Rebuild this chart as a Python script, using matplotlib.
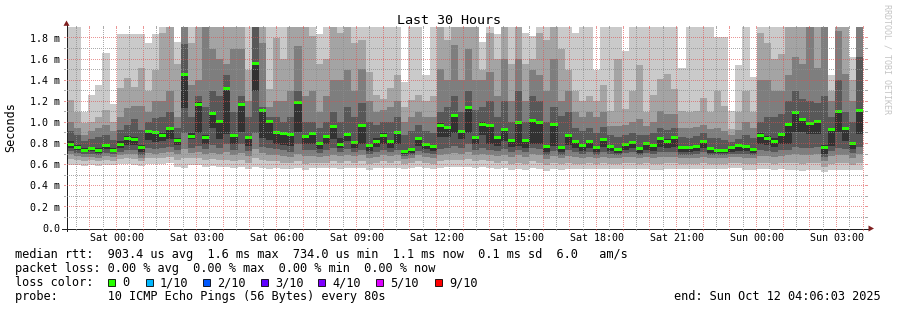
import numpy as np
import matplotlib
matplotlib.use("Agg")
import matplotlib.pyplot as plt
from matplotlib.lines import Line2D
from matplotlib.patches import Polygon, Rectangle

# ---------------- data (milliseconds) ----------------
median_rtt = [
    0.792, 0.764, 0.735, 0.754, 0.735, 0.780, 0.735, 0.795, 0.849, 0.840,
    0.761, 0.912, 0.906, 0.878, 0.941, 0.833, 1.455, 0.865, 1.171, 0.855,
    1.086, 1.010, 1.323, 0.874, 1.171, 0.855, 1.559, 1.114, 1.004, 0.909,
    0.893, 0.890, 1.190, 0.871, 0.896, 0.799, 0.871, 0.960, 0.789, 0.890,
    0.814, 0.975, 0.780, 0.821, 0.874, 0.818, 0.909, 0.723, 0.745, 0.846,
    0.795, 0.770, 0.969, 0.950, 1.064, 0.915, 1.140, 0.859, 0.985, 0.975,
    0.855, 0.931, 0.830, 0.997, 0.827, 1.016, 1.001, 0.773, 0.982, 0.764,
    0.874, 0.821, 0.780, 0.821, 0.764, 0.840, 0.770, 0.745, 0.792, 0.808,
    0.754, 0.802, 0.780, 0.852, 0.824, 0.855, 0.758, 0.764, 0.773, 0.824,
    0.751, 0.735, 0.735, 0.761, 0.777, 0.770, 0.742, 0.878, 0.852, 0.821,
    0.881, 0.985, 1.098, 1.029, 0.994, 1.007, 0.761, 0.931, 1.102, 0.941,
    0.805, 1.114]

rtt_p10 = [
    2.0, 2.0, 1.10, 1.26, 1.35, 1.66, 1.17, 1.84, 1.84, 1.84,
    1.84, 1.75, 1.84, 2.0, 2.0, 1.76, 2.0, 2.0, 2.0, 2.0,
    2.0, 2.0, 2.0, 2.0, 2.0, 2.0, 2.0, 2.0, 2.0, 2.0,
    2.0, 2.0, 2.0, 2.0, 2.0, 1.84, 2.0, 2.0, 2.0, 2.0,
    2.0, 2.0, 2.0, 2.0, 2.0, 2.0, 2.0, 1.38, 2.0, 2.0,
    1.45, 2.0, 2.0, 2.0, 2.0, 2.0, 2.0, 2.0, 1.76, 2.0,
    1.84, 2.0, 2.0, 2.0, 1.85, 1.82, 2.0, 1.90, 2.0, 2.0,
    2.0, 1.85, 2.0, 1.90, 1.50, 2.0, 2.0, 2.0, 1.68, 2.0,
    2.0, 2.0, 2.0, 2.0, 2.0, 2.0, 1.52, 2.0, 2.0, 2.0,
    2.0, 1.81, 1.81, 1.11, 1.54, 2.0, 1.43, 2.0, 2.0, 2.0,
    2.0, 2.0, 2.0, 2.0, 2.0, 2.0, 2.0, 1.45, 2.0, 2.0,
    1.62, 2.0]

rtt_p9 = [
    1.21, 1.10, 0.99, 1.00, 1.05, 1.12, 1.00, 1.33, 1.42, 1.34,
    1.52, 1.30, 1.50, 1.85, 1.95, 1.55, 2.0, 1.75, 2.0, 2.0,
    2.0, 2.0, 2.0, 1.90, 2.0, 1.50, 2.0, 2.0, 1.32, 1.80,
    1.60, 1.90, 2.0, 1.95, 1.82, 1.55, 1.60, 1.90, 1.85, 1.90,
    1.75, 1.78, 1.48, 1.26, 1.22, 1.33, 1.45, 1.15, 1.21, 1.26,
    1.20, 1.25, 2.0, 1.78, 1.95, 2.0, 2.0, 2.0, 1.50, 1.85,
    1.60, 2.0, 1.55, 2.0, 1.55, 1.60, 1.85, 1.78, 1.95, 1.70,
    1.50, 1.30, 1.20, 1.25, 1.20, 1.35, 1.11, 1.60, 1.13, 1.30,
    1.54, 1.10, 1.26, 1.41, 1.46, 1.32, 1.11, 1.10, 1.11, 1.23,
    1.10, 1.30, 1.16, 0.94, 1.10, 1.30, 1.10, 1.85, 1.75, 1.60,
    1.65, 1.95, 2.0, 1.90, 2.0, 2.0, 2.0, 1.30, 2.0, 2.0,
    1.40, 2.0]

rtt_p8 = [
    1.00, 0.95, 0.88, 0.92, 0.95, 0.98, 0.92, 1.05, 1.14, 1.16,
    1.16, 1.10, 1.20, 1.20, 1.30, 1.05, 2.0, 1.35, 1.40, 1.90,
    1.70, 1.60, 1.55, 1.70, 1.70, 1.20, 2.0, 1.75, 1.15, 1.20,
    1.20, 1.30, 1.72, 1.25, 1.30, 1.10, 1.25, 1.40, 1.40, 1.50,
    1.30, 1.51, 1.20, 1.10, 1.12, 1.15, 1.20, 1.00, 1.05, 1.10,
    1.05, 1.05, 1.51, 1.40, 1.73, 1.40, 1.70, 1.40, 1.40, 1.48,
    1.25, 1.60, 1.20, 1.60, 1.20, 1.50, 1.45, 1.30, 1.60, 1.20,
    1.30, 1.10, 1.05, 1.10, 1.05, 1.10, 0.97, 0.97, 0.98, 1.00,
    1.03, 0.97, 1.00, 1.11, 1.08, 1.08, 0.95, 0.95, 0.96, 0.98,
    0.94, 0.95, 0.92, 0.88, 0.93, 1.00, 0.95, 1.40, 1.40, 1.30,
    1.30, 1.45, 1.62, 1.55, 2.0, 1.52, 2.0, 1.20, 1.87, 1.46,
    1.20, 2.0]

rtt_p7 = [
    0.92, 0.88, 0.82, 0.84, 0.86, 0.88, 0.83, 0.93, 0.98, 1.03,
    0.93, 1.00, 1.04, 1.05, 1.10, 0.95, 1.74, 1.05, 1.25, 1.15,
    1.30, 1.25, 1.45, 1.10, 1.25, 1.05, 1.90, 1.15, 1.05, 1.05,
    1.00, 1.05, 1.30, 1.00, 1.00, 0.95, 1.00, 1.10, 1.00, 1.15,
    1.05, 1.18, 1.00, 0.98, 1.00, 1.00, 1.05, 0.88, 0.92, 0.98,
    0.92, 0.90, 1.10, 1.15, 1.25, 1.10, 1.30, 1.12, 1.15, 1.20,
    1.05, 1.20, 1.00, 1.30, 1.00, 1.25, 1.20, 1.00, 1.15, 1.06,
    1.10, 0.95, 0.92, 0.95, 0.90, 0.96, 0.88, 0.86, 0.88, 0.90,
    0.88, 0.88, 0.90, 0.95, 0.93, 0.95, 0.86, 0.85, 0.87, 0.90,
    0.85, 0.85, 0.83, 0.81, 0.84, 0.88, 0.85, 1.00, 1.05, 1.05,
    1.08, 1.20, 1.30, 1.22, 1.20, 1.18, 1.25, 1.05, 1.40, 1.10,
    1.00, 1.62]

rtt_p6 = [
    0.82, 0.79, 0.76, 0.77, 0.76, 0.80, 0.76, 0.82, 0.87, 0.86,
    0.79, 0.92, 0.92, 0.90, 0.95, 0.85, 1.46, 0.90, 1.19, 0.88,
    1.09, 1.02, 1.33, 0.88, 1.18, 0.86, 1.56, 1.12, 1.01, 0.92,
    0.90, 0.89, 1.20, 0.88, 0.90, 0.81, 0.87, 0.97, 0.85, 0.90,
    0.82, 0.98, 0.80, 0.85, 0.90, 0.83, 0.92, 0.74, 0.76, 0.86,
    0.80, 0.78, 0.99, 0.96, 1.07, 0.93, 1.15, 0.87, 1.00, 0.98,
    0.86, 0.94, 0.84, 1.00, 0.84, 1.02, 1.00, 0.78, 0.99, 0.77,
    0.88, 0.83, 0.79, 0.83, 0.77, 0.85, 0.79, 0.76, 0.80, 0.82,
    0.77, 0.81, 0.79, 0.86, 0.84, 0.86, 0.77, 0.77, 0.78, 0.83,
    0.76, 0.75, 0.75, 0.77, 0.78, 0.78, 0.76, 0.90, 0.87, 0.85,
    0.90, 0.99, 1.10, 1.04, 1.00, 1.02, 0.79, 0.94, 1.11, 0.95,
    0.81, 1.13]

rtt_p5 = [
    0.76, 0.74, 0.72, 0.73, 0.71, 0.75, 0.72, 0.76, 0.79, 0.79,
    0.72, 0.83, 0.81, 0.82, 0.84, 0.79, 1.14, 0.84, 0.90, 0.80,
    0.95, 0.84, 0.89, 0.80, 0.91, 0.78, 1.30, 0.85, 0.83, 0.80,
    0.79, 0.78, 0.91, 0.80, 0.80, 0.75, 0.80, 0.84, 0.76, 0.82,
    0.76, 0.80, 0.73, 0.77, 0.80, 0.76, 0.80, 0.70, 0.71, 0.78,
    0.75, 0.73, 0.86, 0.86, 0.90, 0.84, 0.90, 0.80, 0.88, 0.80,
    0.78, 0.82, 0.77, 0.78, 0.76, 0.80, 0.80, 0.72, 0.78, 0.72,
    0.79, 0.76, 0.73, 0.76, 0.72, 0.77, 0.73, 0.71, 0.74, 0.76,
    0.71, 0.74, 0.73, 0.77, 0.76, 0.77, 0.72, 0.72, 0.73, 0.76,
    0.71, 0.71, 0.71, 0.72, 0.73, 0.73, 0.71, 0.80, 0.79, 0.77,
    0.80, 0.80, 0.91, 0.91, 0.89, 0.89, 0.70, 0.78, 0.91, 0.82,
    0.75, 0.89]

rtt_p4 = [
    0.73, 0.71, 0.70, 0.70, 0.69, 0.71, 0.70, 0.72, 0.74, 0.74,
    0.69, 0.76, 0.75, 0.76, 0.77, 0.74, 0.90, 0.76, 0.78, 0.75,
    0.79, 0.76, 0.80, 0.74, 0.80, 0.73, 0.90, 0.77, 0.76, 0.75,
    0.74, 0.72, 0.80, 0.74, 0.74, 0.71, 0.74, 0.76, 0.72, 0.75,
    0.72, 0.74, 0.70, 0.72, 0.74, 0.72, 0.74, 0.68, 0.69, 0.73,
    0.71, 0.70, 0.75, 0.76, 0.78, 0.76, 0.80, 0.74, 0.76, 0.74,
    0.73, 0.75, 0.72, 0.74, 0.72, 0.76, 0.75, 0.69, 0.73, 0.69,
    0.74, 0.72, 0.70, 0.72, 0.69, 0.72, 0.70, 0.69, 0.71, 0.72,
    0.69, 0.71, 0.70, 0.72, 0.72, 0.72, 0.69, 0.69, 0.70, 0.72,
    0.69, 0.69, 0.69, 0.70, 0.70, 0.70, 0.69, 0.74, 0.73, 0.72,
    0.74, 0.74, 0.77, 0.76, 0.76, 0.77, 0.67, 0.73, 0.76, 0.75,
    0.71, 0.77]

rtt_p3 = [
    0.70, 0.68, 0.67, 0.67, 0.66, 0.68, 0.67, 0.69, 0.70, 0.70,
    0.66, 0.71, 0.70, 0.71, 0.72, 0.70, 0.75, 0.71, 0.72, 0.70,
    0.71, 0.70, 0.72, 0.69, 0.71, 0.68, 0.75, 0.71, 0.69, 0.69,
    0.68, 0.67, 0.70, 0.68, 0.68, 0.67, 0.68, 0.69, 0.68, 0.69,
    0.68, 0.69, 0.66, 0.67, 0.69, 0.68, 0.69, 0.65, 0.66, 0.69,
    0.67, 0.66, 0.69, 0.70, 0.71, 0.70, 0.72, 0.69, 0.70, 0.69,
    0.68, 0.69, 0.67, 0.69, 0.67, 0.70, 0.69, 0.65, 0.68, 0.66,
    0.68, 0.67, 0.66, 0.67, 0.66, 0.67, 0.66, 0.66, 0.67, 0.67,
    0.66, 0.67, 0.66, 0.67, 0.67, 0.67, 0.66, 0.66, 0.66, 0.67,
    0.66, 0.66, 0.66, 0.67, 0.67, 0.66, 0.66, 0.68, 0.68, 0.67,
    0.68, 0.69, 0.70, 0.69, 0.69, 0.70, 0.63, 0.68, 0.69, 0.69,
    0.66, 0.70]

rtt_p2 = [
    0.65, 0.64, 0.63, 0.64, 0.63, 0.64, 0.63, 0.65, 0.66, 0.65,
    0.63, 0.66, 0.66, 0.66, 0.67, 0.64, 0.66, 0.66, 0.66, 0.64,
    0.65, 0.64, 0.64, 0.63, 0.64, 0.62, 0.66, 0.64, 0.63, 0.63,
    0.62, 0.62, 0.63, 0.61, 0.62, 0.62, 0.62, 0.63, 0.62, 0.63,
    0.62, 0.63, 0.61, 0.62, 0.63, 0.62, 0.63, 0.61, 0.62, 0.63,
    0.62, 0.61, 0.63, 0.64, 0.64, 0.64, 0.65, 0.63, 0.64, 0.63,
    0.62, 0.63, 0.61, 0.62, 0.61, 0.63, 0.62, 0.60, 0.62, 0.61,
    0.62, 0.61, 0.61, 0.62, 0.61, 0.62, 0.61, 0.61, 0.62, 0.62,
    0.61, 0.62, 0.61, 0.61, 0.62, 0.62, 0.61, 0.61, 0.61, 0.62,
    0.61, 0.61, 0.61, 0.62, 0.62, 0.61, 0.61, 0.62, 0.62, 0.61,
    0.62, 0.62, 0.62, 0.61, 0.62, 0.62, 0.58, 0.61, 0.62, 0.62,
    0.60, 0.62]

rtt_p1 = [
    0.60, 0.60, 0.59, 0.60, 0.59, 0.60, 0.60, 0.61, 0.61, 0.60,
    0.59, 0.61, 0.61, 0.61, 0.62, 0.58, 0.57, 0.60, 0.60, 0.58,
    0.59, 0.58, 0.58, 0.57, 0.58, 0.56, 0.58, 0.57, 0.56, 0.57,
    0.56, 0.56, 0.57, 0.55, 0.57, 0.57, 0.57, 0.57, 0.56, 0.57,
    0.57, 0.57, 0.55, 0.57, 0.57, 0.57, 0.57, 0.56, 0.57, 0.58,
    0.57, 0.56, 0.57, 0.58, 0.58, 0.58, 0.58, 0.57, 0.58, 0.57,
    0.56, 0.57, 0.55, 0.56, 0.55, 0.57, 0.56, 0.54, 0.56, 0.55,
    0.56, 0.56, 0.56, 0.56, 0.56, 0.56, 0.56, 0.56, 0.56, 0.56,
    0.56, 0.56, 0.55, 0.55, 0.56, 0.56, 0.56, 0.56, 0.56, 0.56,
    0.56, 0.56, 0.56, 0.57, 0.57, 0.55, 0.55, 0.56, 0.56, 0.55,
    0.56, 0.55, 0.55, 0.54, 0.55, 0.55, 0.53, 0.55, 0.55, 0.55,
    0.55, 0.55]

x_tick_hours = [0, 3, 6, 9, 12, 15, 18, 21, 24, 27]   # hours after Sat 00:00
x_tick_labels = ["Sat 00:00", "Sat 03:00", "Sat 06:00", "Sat 09:00", "Sat 12:00",
                 "Sat 15:00", "Sat 18:00", "Sat 21:00", "Sun 00:00", "Sun 03:00"]
y_ticks = [0.0, 0.2, 0.4, 0.6, 0.8, 1.0, 1.2, 1.4, 1.6, 1.8]
y_tick_labels = ["0.0", "0.2 m", "0.4 m", "0.6 m", "0.8 m", "1.0 m",
                 "1.2 m", "1.4 m", "1.6 m", "1.8 m"]
loss_labels = ["0", "1/10", "2/10", "3/10", "4/10", "5/10", "9/10"]
loss_colors = ["#26ff00", "#00b8ff", "#0059ff", "#5e00ff", "#7e00ff", "#dd00ff", "#ff0000"]

# ---------------- layout ----------------
W, H = 897, 310
fig = plt.figure(figsize=(W / 100, H / 100), dpi=100)
fig.patch.set_facecolor("white")

def fx(x):
    return x / W

def fy(y):
    return 1 - y / H

PX_L, PX_R = 66, 866
PX_B, PX_T = 228, 27.4
X_START = -(1 + 53 / 60 + 57 / 3600)      # Fri 22:06:03 relative to Sat 00:00
X_END = 28 + 6 / 60 + 3 / 3600            # Sun 04:06:03
Y_MAX = 1.9

ax = fig.add_axes([fx(PX_L), fy(PX_B), (PX_R - PX_L) / W, (PX_B - PX_T) / H])
ax.set_xlim(X_START, X_END)
ax.set_ylim(0, Y_MAX)
ax.axis("off")

STEP_H = 16 / 60
n = len(median_rtt)
edges = (np.arange(n + 1) - 7) * STEP_H

def ext(a):
    a = np.asarray(a, dtype=float)
    return np.append(a, a[-1])

lows = [rtt_p1, rtt_p2, rtt_p3, rtt_p4, rtt_p5]
highs = [rtt_p10, rtt_p9, rtt_p8, rtt_p7, rtt_p6]
smoke = ["#cacaca", "#a4a4a4", "#7e7e7e", "#585858", "#323232"]
for lo, hi, c in zip(lows, highs, smoke):
    ax.fill_between(edges, ext(lo), ext(hi), step="post", color=c,
                    linewidth=0, antialiased=False, zorder=1)

# median markers (3 px tall)
mh = 3 * Y_MAX / (PX_B - PX_T)
med = np.asarray(median_rtt)
ax.bar(edges[:-1], mh, bottom=med - mh / 2, width=STEP_H, align="edge",
       color=loss_colors[0], linewidth=0, antialiased=False, zorder=2)

def hour_to_px(h):
    return PX_L + (h - X_START) / (X_END - X_START) * (PX_R - PX_L)

def val_to_px(v):
    return PX_B - v / Y_MAX * (PX_B - PX_T)

def fline(x0, y0, x1, y1, color, lw=0.72, aa=False):
    fig.add_artist(Line2D([fx(x0), fx(x1)], [fy(y0), fy(y1)], transform=fig.transFigure,
                          color=color, linewidth=lw, solid_capstyle="butt", antialiased=aa))

# grid: pixel-exact dotted overlay (1 on / 1 off), alpha blended
grid_c = (0.56, 0.56, 0.56, 0.75)
mgrid_c = (0.87, 0.31, 0.31, 0.60)
overlay = np.zeros((H, W, 4))
ytop = int(np.ceil(PX_T))
for k in range(-3, 57):
    h = k * 0.5
    if h <= X_START or h >= X_END:
        continue
    c = mgrid_c if k % 2 == 0 else grid_c
    xi = int(np.floor(hour_to_px(h)))
    overlay[ytop:PX_B:2, xi] = c
    overlay[PX_B + 1:PX_B + 3, xi] = c
    overlay[ytop - 2:ytop, xi] = c
for j in range(1, 19):
    c = mgrid_c if j % 2 == 0 else grid_c
    yi = int(np.floor(val_to_px(j * 0.1)))
    overlay[yi, PX_L + 1:PX_R:2] = c
    overlay[yi, PX_L - 2:PX_L] = c
    overlay[yi, PX_R:PX_R + 2] = c
fig.figimage(overlay, xo=0, yo=0, origin="upper", zorder=5)

# axes lines and arrows
axis_c = (0.12, 0.12, 0.12)
arrow_c = (0.5, 0.12, 0.12)
fline(62, PX_B + 0.5, 869, PX_B + 0.5, axis_c)
fline(PX_L + 0.5, PX_B + 3, PX_L + 0.5, 23, axis_c)
fig.add_artist(Polygon([[fx(63.5), fy(25.8)], [fx(69.5), fy(25.8)], [fx(66.5), fy(20.5)]],
                       closed=True, transform=fig.transFigure, color=arrow_c, lw=0, zorder=6))
fig.add_artist(Polygon([[fx(868.5), fy(225.5)], [fx(868.5), fy(231.5)], [fx(874), fy(228.5)]],
                       closed=True, transform=fig.transFigure, color=arrow_c, lw=0, zorder=6))

mono = "DejaVu Sans Mono"

# tick labels
for v, lab in zip(y_ticks, y_tick_labels):
    fig.text(fx(60), fy(val_to_px(v) + 3.7), lab, ha="right", va="baseline",
             family=mono, fontsize=7.2, color="black")
for h, lab in zip(x_tick_hours, x_tick_labels):
    fig.text(fx(hour_to_px(h)), fy(241), lab, ha="center", va="baseline",
             family=mono, fontsize=7.2, color="black")

# titles
fig.text(fx(448.5), fy(23.5), "Last 30 Hours", ha="center", va="baseline",
         family=mono, fontsize=9.6, color="black")
fig.text(fx(11), fy(127), "Seconds", ha="center", va="center", rotation=90,
         family=mono, fontsize=8.5, color="black")
fig.text(fx(887), fy(4), "RRDTOOL / TOBI OETIKER", ha="center", va="top", rotation=270,
         family=mono, fontsize=6, color="#c4c4c4")

# legend
LF = 8.57
X0 = 14.8
fig.text(fx(X0), fy(258),
         "median rtt:  903.4 us avg  1.6 ms max  734.0 us min  1.1 ms now  0.1 ms sd  6.0   am/s",
         ha="left", va="baseline", family=mono, fontsize=LF)
fig.text(fx(X0), fy(272), "packet loss: 0.00 % avg  0.00 % max  0.00 % min  0.00 % now",
         ha="left", va="baseline", family=mono, fontsize=LF)
fig.text(fx(X0), fy(286), "loss color:", ha="left", va="baseline", family=mono, fontsize=LF)
sq_x = [108.3, 146, 203.3, 261, 318.3, 376, 435]
for sx, lab, col in zip(sq_x, loss_labels, loss_colors):
    fig.add_artist(Rectangle((fx(sx), fy(286)), 7 / W, 7 / H, transform=fig.transFigure,
                             facecolor=col, edgecolor="black", linewidth=0.6))
    fig.text(fx(sx + 14), fy(286), lab, ha="left", va="baseline", family=mono, fontsize=LF)
fig.text(fx(X0), fy(300), "probe:       10 ICMP Echo Pings (56 Bytes) every 80s",
         ha="left", va="baseline", family=mono, fontsize=LF)
fig.text(fx(881), fy(300), "end: Sun Oct 12 04:06:03 2025", ha="right", va="baseline",
         family=mono, fontsize=LF)

fig.savefig("out.png", dpi=100, facecolor="white")
